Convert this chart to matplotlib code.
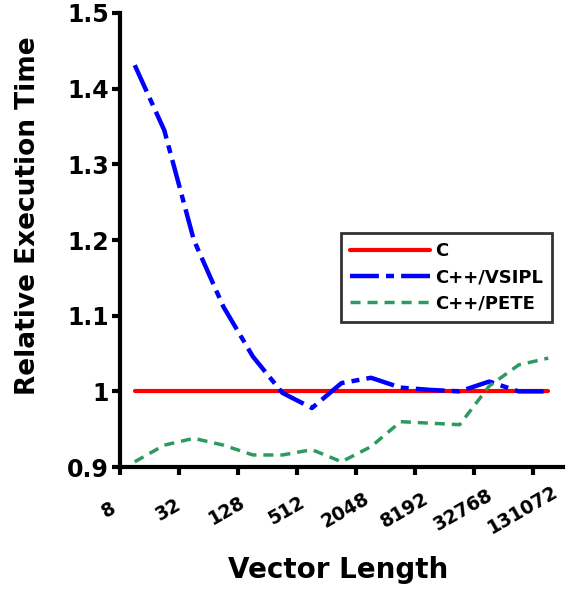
import numpy as np
import matplotlib
matplotlib.use('Agg')
import matplotlib.pyplot as plt
import matplotlib.transforms as mtransforms

# vector lengths 8 .. 131072 (powers of two)
lengths = [8 * 2 ** i for i in range(15)]
tick_labels = ['8', '32', '128', '512', '2048', '8192', '32768', '131072']

c_times = [1.0] * 15
vsipl_times = [1.431, 1.345, 1.200, 1.112, 1.046, 0.998, 0.978, 1.011,
               1.018, 1.005, 1.002, 1.000, 1.013, 1.000, 1.000]
pete_times = [0.907, 0.929, 0.938, 0.929, 0.916, 0.916, 0.923, 0.907,
              0.927, 0.960, 0.958, 0.956, 1.007, 1.035, 1.044]

plt.rcParams['font.family'] = 'DejaVu Sans'
plt.rcParams['font.weight'] = 'bold'

fig = plt.figure(figsize=(5.67, 5.89), dpi=100)
ax = fig.add_axes([0.2116, 0.207, 0.7814, 0.771])

# category positions: points centred between tick marks
xs = np.arange(len(lengths)) + 0.5

ax.plot(xs, c_times, color='#ff0000', lw=3, solid_capstyle='round', label='C')
ax.plot(xs, vsipl_times, color='#0000ff', lw=3.2, dashes=(6.5, 1.6, 1.8, 1.6),
        label='C++/VSIPL')
ax.plot(xs, pete_times, color='#2e9a63', lw=2.5, dashes=(2.9, 2.0), label='C++/PETE')

ax.set_xlim(0, 15)
ax.set_ylim(0.9, 1.5)
ax.set_xticks(np.arange(0, 15, 2))
ax.set_yticks([0.9, 1.0, 1.1, 1.2, 1.3, 1.4, 1.5])
ax.set_yticklabels(['0.9', '1', '1.1', '1.2', '1.3', '1.4', '1.5'],
                   fontsize=17, fontweight='bold')

for s in ['top', 'right']:
    ax.spines[s].set_visible(False)
for s in ['left', 'bottom']:
    ax.spines[s].set_linewidth(3)
ax.tick_params(axis='both', direction='out', length=6, width=3)
ax.tick_params(axis='x', pad=25)
ax.tick_params(axis='y', pad=2)

ax.set_xticklabels(tick_labels, rotation=30, ha='center', va='center',
                   fontsize=13.5, fontweight='bold')
# nudge the rotated labels slightly left of their ticks
shift = mtransforms.ScaledTranslation(-11 / 100, 0, fig.dpi_scale_trans)
for lbl in ax.get_xticklabels():
    lbl.set_transform(lbl.get_transform() + shift)

ax.set_xlabel('Vector Length', fontsize=20, fontweight='bold')
ax.xaxis.set_label_coords(0.492, -0.196)
ax.set_ylabel('Relative Execution Time', fontsize=19, fontweight='bold')
ax.yaxis.set_label_coords(-0.178, 0.553)

leg = ax.legend(loc='upper left', bbox_to_anchor=(0.499, 0.515),
                fontsize=13, frameon=True, fancybox=False, edgecolor='black',
                handlelength=4.4, handletextpad=0.3, borderpad=0.5,
                labelspacing=0.45, borderaxespad=0)
leg.get_frame().set_linewidth(2)
for t in leg.get_texts():
    t.set_fontweight('bold')

fig.savefig('out.png', dpi=100)
